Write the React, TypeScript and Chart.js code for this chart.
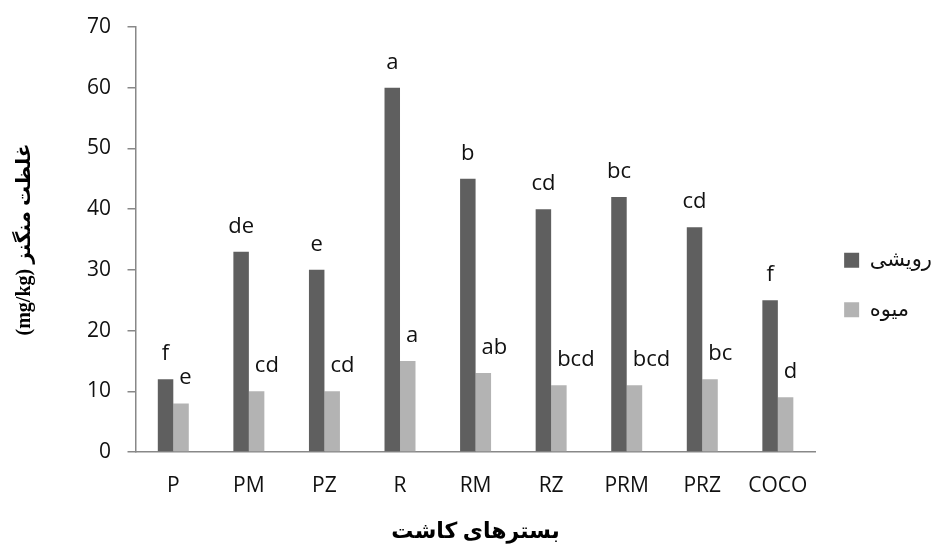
import React, { useEffect, useRef } from "react";
import { Chart, registerables } from "chart.js";

Chart.register(...registerables);

const categories = ["P", "PM", "PZ", "R", "RM", "RZ", "PRM", "PRZ", "COCO"];
const vegetativeValues = [12, 33, 30, 60, 45, 40, 42, 37, 25];
const fruitValues = [8, 10, 10, 15, 13, 11, 11, 12, 9];
const vegetativeLetters = ["f", "de", "e", "a", "b", "cd", "bc", "cd", "f"];
const fruitLetters = ["e", "cd", "cd", "a", "ab", "bcd", "bcd", "bc", "d"];
const seriesNames = ["رویشی", "میوه"];
const yTitle = "(mg/kg) غلظت منگنز";
const xTitle = "بسترهای کاشت";

const DARK = "#5f5f5f";
const LIGHT = "#b3b3b3";
const AXIS = "#888888";
const SANS = '"Open Sans", "Noto Sans", "DejaVu Sans", sans-serif';
const SERIF = '"Liberation Serif", "DejaVu Serif", "DejaVu Sans", serif';

const letterPlugin = {
  id: "letterPlugin",
  afterDatasetsDraw(chart: any) {
    const ctx = chart.ctx;
    ctx.save();
    ctx.fillStyle = "#111111";
    ctx.font = `22px ${SANS}`;
    ctx.textBaseline = "alphabetic";
    const sets = [vegetativeLetters, fruitLetters];
    sets.forEach((letters, di) => {
      const meta = chart.getDatasetMeta(di);
      meta.data.forEach((el: any, i: number) => {
        const w = el.width;
        if (di === 0) {
          ctx.textAlign = "center";
          ctx.fillText(letters[i], el.x, el.y - 19);
        } else {
          ctx.textAlign = "left";
          ctx.fillText(letters[i], el.x - w / 2 + 6, el.y - 19);
        }
      });
    });
    ctx.restore();
  },
};

export default function App() {
  const ref = useRef<HTMLCanvasElement | null>(null);
  useEffect(() => {
    if (!ref.current) return;
    const chart = new Chart(ref.current, {
      type: "bar",
      data: {
        labels: categories,
        datasets: [
          {
            label: seriesNames[0],
            data: vegetativeValues,
            backgroundColor: DARK,
            categoryPercentage: 0.41,
            barPercentage: 1,
          },
          {
            label: seriesNames[1],
            data: fruitValues,
            backgroundColor: LIGHT,
            categoryPercentage: 0.41,
            barPercentage: 1,
          },
        ],
      },
      options: {
        responsive: false,
        animation: false,
        layout: { padding: { left: 13, top: 27, right: 2, bottom: 6 } },
        plugins: {
          tooltip: { enabled: false },
          legend: {
            position: "right",
            labels: {
              boxWidth: 15,
              boxHeight: 15,
              padding: 28.5,
              color: "#111111",
              font: { family: SANS, size: 21 },
            },
          },
        },
        scales: {
          x: {
            grid: { display: true, drawOnChartArea: false, drawTicks: false },
            border: { display: true, color: AXIS, width: 1.5 },
            ticks: {
              padding: 24,
              color: "#111111",
              font: { family: SANS, size: 21, lineHeight: 1 },
            },
            title: {
              display: true,
              text: xTitle,
              color: "#000000",
              font: { family: SERIF, size: 22, weight: "bold", lineHeight: 1 },
              padding: { top: 0, bottom: 0 },
            },
          },
          y: {
            min: 0,
            max: 70,
            ticks: {
              stepSize: 10,
              padding: 16.5,
              color: "#111111",
              font: { family: SANS, size: 21, lineHeight: 1 },
            },
            grid: {
              display: true,
              drawOnChartArea: false,
              drawTicks: true,
              tickLength: 8,
              color: AXIS,
              lineWidth: 1.5,
            },
            border: { display: true, color: AXIS, width: 1.5 },
            title: {
              display: true,
              text: yTitle,
              color: "#000000",
              font: { family: SERIF, size: 20, weight: "bold" },
              padding: { top: 0, bottom: 33.5 },
            },
          },
        },
      },
      plugins: [letterPlugin],
    });
    return () => chart.destroy();
  }, []);
  return (
    <div style={{ position: "absolute", left: 0, top: 0, width: 944, height: 549, background: "#ffffff" }}>
      <canvas ref={ref} width={944} height={549} />
    </div>
  );
}
